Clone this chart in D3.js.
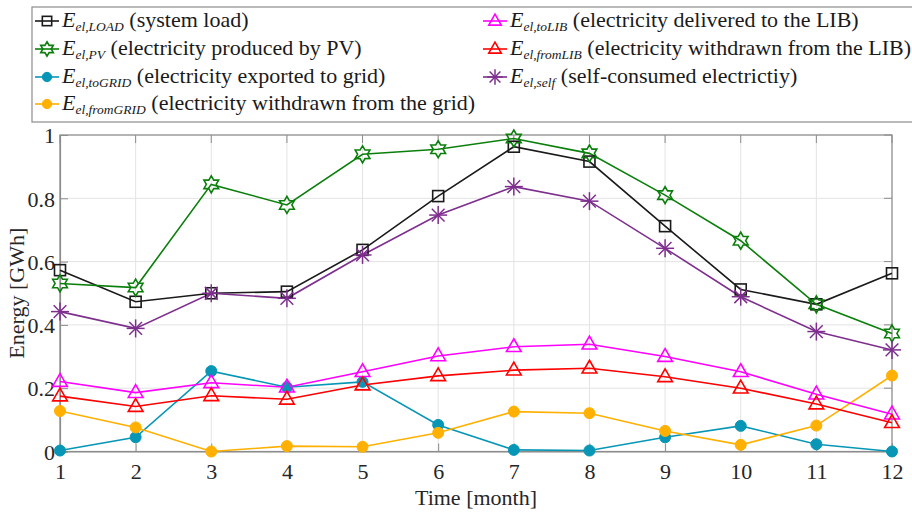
<!DOCTYPE html>
<html>
<head>
<meta charset="utf-8">
<script src="https://cdn.jsdelivr.net/npm/d3@7"></script>
<style>
  html, body { margin: 0; padding: 0; background: #fff; }
</style>
</head>
<body>
<svg id="chart" width="912" height="515"></svg>
<script>
// Monthly energy balance of the PV + LIB system (GWh)
const months = [1, 2, 3, 4, 5, 6, 7, 8, 9, 10, 11, 12];
const yTicks = [0, 0.2, 0.4, 0.6, 0.8, 1];

const loadVals     = [0.573, 0.473, 0.500, 0.505, 0.637, 0.807, 0.963, 0.916, 0.712, 0.512, 0.465, 0.563];
const pvVals       = [0.531, 0.518, 0.844, 0.779, 0.939, 0.955, 0.989, 0.942, 0.810, 0.666, 0.465, 0.373];
const toGridVals   = [0.003, 0.045, 0.254, 0.203, 0.220, 0.084, 0.005, 0.003, 0.045, 0.081, 0.023, 0.000];
const fromGridVals = [0.128, 0.076, 0.000, 0.017, 0.015, 0.059, 0.126, 0.121, 0.065, 0.021, 0.082, 0.240];
const toLibVals    = [0.221, 0.186, 0.217, 0.203, 0.252, 0.302, 0.331, 0.339, 0.300, 0.252, 0.181, 0.118];
const fromLibVals  = [0.175, 0.142, 0.176, 0.165, 0.210, 0.239, 0.257, 0.263, 0.236, 0.200, 0.150, 0.091];
const selfVals     = [0.442, 0.389, 0.500, 0.484, 0.621, 0.747, 0.837, 0.791, 0.642, 0.489, 0.379, 0.321];

const series = [
  { key: "LOAD",     sub: "el,LOAD",     desc: "(system load)",                        vals: loadVals,     color: "#1a1a1a", marker: "square" },
  { key: "PV",       sub: "el,PV",       desc: "(electricity produced by PV)",         vals: pvVals,       color: "#0b7f0b", marker: "hexagram" },
  { key: "toGRID",   sub: "el,toGRID",   desc: "(electricity exported to grid)",       vals: toGridVals,   color: "#0896b6", marker: "circle" },
  { key: "fromGRID", sub: "el,fromGRID", desc: "(electricity withdrawn from the grid)", vals: fromGridVals, color: "#ffb000", marker: "circle" },
  { key: "toLIB",    sub: "el,toLIB",    desc: "(electricity delivered to the LIB)",   vals: toLibVals,    color: "#ff00ff", marker: "triangle" },
  { key: "fromLIB",  sub: "el,fromLIB",  desc: "(electricity withdrawn from the LIB)", vals: fromLibVals,  color: "#ff0000", marker: "triangle" },
  { key: "self",     sub: "el,self",     desc: "(self-consumed electrictiy)",          vals: selfVals,     color: "#7e2f8e", marker: "asterisk" }
];

const FONT = "Liberation Serif";
const svg = d3.select("#chart");
const plot = { left: 60, right: 892, top: 135, bottom: 451.5 };

const x = d3.scaleLinear().domain([1, 12]).range([plot.left, plot.right]);
const y = d3.scaleLinear().domain([0, 1]).range([plot.bottom, plot.top]);

// grid lines
const grid = svg.append("g");
grid.selectAll("line.vg").data(months).join("line")
  .attr("x1", d => x(d)).attr("x2", d => x(d))
  .attr("y1", plot.top).attr("y2", plot.bottom)
  .attr("stroke", "#e3e3e3").attr("stroke-width", 1);
grid.selectAll("line.hg").data(yTicks).join("line")
  .attr("x1", plot.left).attr("x2", plot.right)
  .attr("y1", d => y(d)).attr("y2", d => y(d))
  .attr("stroke", "#e3e3e3").attr("stroke-width", 1);

// axes box
svg.append("rect")
  .attr("x", plot.left).attr("y", plot.top)
  .attr("width", plot.right - plot.left).attr("height", plot.bottom - plot.top)
  .attr("fill", "none").attr("stroke", "#8c8c8c").attr("stroke-width", 1.2);

// axes with inward ticks
const xAxis = d3.axisBottom(x).tickValues(months).tickSize(-8).tickPadding(12).tickFormat(d3.format("d"));
const yAxis = d3.axisLeft(y).tickValues(yTicks).tickSize(-8).tickPadding(5).tickFormat(d => d === 0 || d === 1 ? String(d) : d3.format(".1f")(d));

const gx = svg.append("g").attr("transform", `translate(0,${plot.bottom})`).call(xAxis);
const gy = svg.append("g").attr("transform", `translate(${plot.left},0)`).call(yAxis);
[gx, gy].forEach(g => {
  g.attr("font-family", FONT);
  g.select(".domain").attr("stroke", "#8c8c8c").attr("stroke-width", 1.2);
  g.selectAll(".tick line").attr("stroke", "#8c8c8c");
  g.selectAll(".tick text").attr("fill", "#262626").attr("font-size", 22).attr("font-family", FONT);
});
gy.selectAll(".tick text").attr("dy", "0.35em");
// mirrored ticks on top and right edges
svg.append("g").selectAll("line").data(months).join("line")
  .attr("x1", d => x(d)).attr("x2", d => x(d))
  .attr("y1", plot.top).attr("y2", plot.top + 8)
  .attr("stroke", "#8c8c8c");
svg.append("g").selectAll("line").data(yTicks).join("line")
  .attr("x1", plot.right - 8).attr("x2", plot.right)
  .attr("y1", d => y(d)).attr("y2", d => y(d))
  .attr("stroke", "#8c8c8c");

// axis titles
svg.append("text")
  .attr("x", (plot.left + plot.right) / 2).attr("y", 505)
  .attr("text-anchor", "middle").attr("font-size", 22).attr("font-family", FONT).attr("fill", "#262626")
  .text("Time [month]");
svg.append("text")
  .attr("transform", `translate(24,${(plot.top + plot.bottom) / 2}) rotate(-90)`)
  .attr("text-anchor", "middle").attr("font-size", 22).attr("font-family", FONT).attr("fill", "#262626")
  .text("Energy [GWh]");

// marker drawing
function hexagramPath(r) {
  const pts = [];
  for (let i = 0; i < 12; i++) {
    const a = -Math.PI / 2 + i * Math.PI / 6;
    const rr = i % 2 === 0 ? r : r * 0.58;
    pts.push([rr * Math.cos(a), rr * Math.sin(a)]);
  }
  return "M" + pts.map(p => p.join(",")).join("L") + "Z";
}
function drawMarker(g, type, color, cx, cy, scale = 1) {
  const m = g.append("g").attr("transform", `translate(${cx},${cy})`);
  if (type === "square") {
    const s = 11 * scale;
    m.append("rect").attr("x", -s / 2).attr("y", -s / 2).attr("width", s).attr("height", s)
      .attr("fill", "none").attr("stroke", color).attr("stroke-width", 1.6);
  } else if (type === "hexagram") {
    m.append("path").attr("d", hexagramPath(8.5 * scale))
      .attr("fill", "none").attr("stroke", color).attr("stroke-width", 1.6);
  } else if (type === "circle") {
    m.append("circle").attr("r", 5.5 * scale).attr("fill", color).attr("stroke", color);
  } else if (type === "triangle") {
    const r = 8 * scale;
    m.append("path")
      .attr("d", `M0,${-r}L${r * 0.92},${r * 0.6}L${-r * 0.92},${r * 0.6}Z`)
      .attr("fill", "none").attr("stroke", color).attr("stroke-width", 1.6);
  } else if (type === "asterisk") {
    const r = 9 * scale;
    for (let i = 0; i < 4; i++) {
      const a = i * Math.PI / 4;
      m.append("line")
        .attr("x1", -r * Math.cos(a)).attr("y1", -r * Math.sin(a))
        .attr("x2", r * Math.cos(a)).attr("y2", r * Math.sin(a))
        .attr("stroke", color).attr("stroke-width", 1.5);
    }
  }
}

// lines and markers
const line = d3.line().x((d, i) => x(months[i])).y(d => y(d));
const dataLayer = svg.append("g");
series.forEach(s => {
  dataLayer.append("path").datum(s.vals)
    .attr("d", line).attr("fill", "none")
    .attr("stroke", s.color).attr("stroke-width", 1.6);
});
series.forEach(s => {
  s.vals.forEach((v, i) => drawMarker(dataLayer, s.marker, s.color, x(months[i]), y(v)));
});

// legend
const legend = svg.append("g");
legend.append("rect")
  .attr("x", 32).attr("y", 7).attr("width", 900).attr("height", 115)
  .attr("fill", "#fff").attr("stroke", "#8c8c8c").attr("stroke-width", 1.2);

const rowY = [21, 49, 77, 104];
const cols = [{ x0: 35, tx: 62 }, { x0: 483, tx: 510 }];
series.forEach((s, i) => {
  const col = i < 4 ? cols[0] : cols[1];
  const ry = rowY[i < 4 ? i : i - 4];
  legend.append("line")
    .attr("x1", col.x0).attr("x2", col.x0 + 24)
    .attr("y1", ry).attr("y2", ry)
    .attr("stroke", s.color).attr("stroke-width", 1.6);
  drawMarker(legend, s.marker, s.color, col.x0 + 12, ry, 0.85);
  const t = legend.append("text")
    .attr("x", col.tx).attr("y", ry + 6)
    .attr("font-family", FONT)
    .attr("font-size", 22).attr("fill", "#1a1a1a");
  t.append("tspan").attr("font-style", "italic").text("E");
  t.append("tspan").attr("font-style", "italic").attr("font-size", 13.5).attr("dy", 4).text(s.sub);
  t.append("tspan").attr("dy", -4).text("\u00a0" + s.desc);
});
</script>
</body>
</html>
